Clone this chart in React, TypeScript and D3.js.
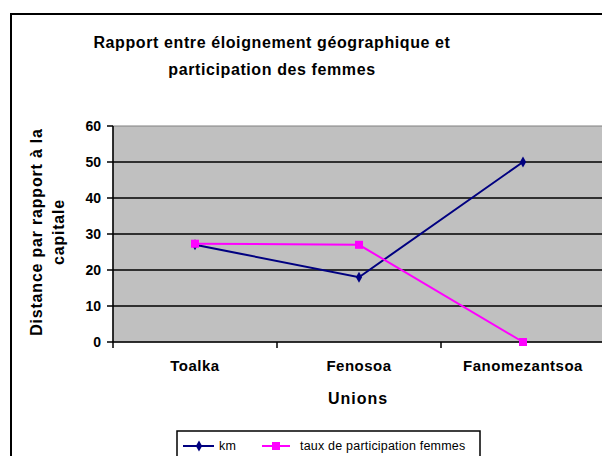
import React from "react";
import * as d3 from "d3";

const WIDTH = 602;
const HEIGHT = 456;
const MARGIN = { top: 126, right: -3, bottom: 114, left: 113 };

const categories = ["Toalka", "Fenosoa", "Fanomezantsoa"];
const kmValues = [27, 18, 50];
const tauxValues = [27.3, 27, 0];
const yTicks = [0, 10, 20, 30, 40, 50, 60];

const FONT = "'Liberation Sans', Arial, sans-serif";

export default function App() {
  const boundsWidth = WIDTH - MARGIN.left - MARGIN.right;
  const boundsHeight = HEIGHT - MARGIN.top - MARGIN.bottom;

  const xScale = d3.scaleBand().domain(categories).range([0, boundsWidth]);
  const yScale = d3.scaleLinear().domain([0, 60]).range([boundsHeight, 0]);
  const xc = (c: string) => (xScale(c) ?? 0) + xScale.bandwidth() / 2;

  const line = d3
    .line<number>()
    .x((_, i) => xc(categories[i]))
    .y((d) => yScale(d));

  const diamond = d3.symbol(d3.symbolDiamond, 34)() ?? "";
  const yMid = MARGIN.top + boundsHeight / 2 - 2;

  return (
    <svg
      width={WIDTH}
      height={HEIGHT}
      style={{ position: "absolute", left: 0, top: 0, background: "#fff" }}
      fontFamily={FONT}
    >
      <rect x={11} y={14} width={620} height={480} fill="#fff" stroke="#000" strokeWidth={2} />

      <text x={272} y={48} textAnchor="middle" fontSize={16} fontWeight="bold" letterSpacing={0.6}>
        Rapport entre éloignement géographique et
      </text>
      <text x={272} y={75} textAnchor="middle" fontSize={16} fontWeight="bold" letterSpacing={0.6}>
        participation des femmes
      </text>

      <g transform={`translate(${MARGIN.left},${MARGIN.top})`}>
        <rect x={0} y={0} width={boundsWidth} height={boundsHeight} fill="#C0C0C0" stroke="#808080" strokeWidth={1} />
        {yTicks.map((t) => (
          <g key={t}>
            {t > 0 && t < 60 && (
              <line x1={0} x2={boundsWidth} y1={yScale(t)} y2={yScale(t)} stroke="#000" strokeWidth={1.5} />
            )}
            <line x1={-6} x2={0} y1={yScale(t)} y2={yScale(t)} stroke="#000" strokeWidth={1.5} />
            <text x={-12} y={yScale(t)} dy="0.35em" textAnchor="end" fontSize={14} fontWeight="bold">
              {t}
            </text>
          </g>
        ))}
        <line x1={0} x2={0} y1={0} y2={boundsHeight + 6} stroke="#000" strokeWidth={1.5} />
        <line x1={0} x2={boundsWidth} y1={boundsHeight} y2={boundsHeight} stroke="#000" strokeWidth={1.5} />
        {categories.map((c) => (
          <g key={c}>
            <line
              x1={(xScale(c) ?? 0) + xScale.bandwidth()}
              x2={(xScale(c) ?? 0) + xScale.bandwidth()}
              y1={boundsHeight}
              y2={boundsHeight + 6}
              stroke="#000"
              strokeWidth={1.5}
            />
            <text x={xc(c)} y={boundsHeight + 29} textAnchor="middle" fontSize={15} fontWeight="bold" letterSpacing={0.5}>
              {c}
            </text>
          </g>
        ))}

        <path d={line(kmValues) ?? ""} fill="none" stroke="#000080" strokeWidth={2} />
        <path d={line(tauxValues) ?? ""} fill="none" stroke="#FF00FF" strokeWidth={2} />
        {kmValues.map((v, i) => (
          <path key={i} d={diamond} transform={`translate(${xc(categories[i])},${yScale(v)})`} fill="#000080" />
        ))}
        {tauxValues.map((v, i) => (
          <rect key={i} x={xc(categories[i]) - 4} y={yScale(v) - 4} width={8} height={8} fill="#FF00FF" />
        ))}
      </g>

      <text
        transform={`translate(42,${yMid}) rotate(-90)`}
        textAnchor="middle"
        fontSize={16}
        fontWeight="bold"
        letterSpacing={0.8}
      >
        Distance par rapport à la
      </text>
      <text
        transform={`translate(64,${yMid}) rotate(-90)`}
        textAnchor="middle"
        fontSize={16}
        fontWeight="bold"
        letterSpacing={0.8}
      >
        capitale
      </text>
      <text x={358} y={404} textAnchor="middle" fontSize={16} fontWeight="bold" letterSpacing={1}>
        Unions
      </text>

      <g>
        <rect x={177} y={431} width={303} height={40} fill="#fff" stroke="#000" strokeWidth={1.5} />
        <line x1={183} x2={214} y1={446} y2={446} stroke="#000080" strokeWidth={2} />
        <path d={diamond} transform="translate(199,446)" fill="#000080" />
        <text x={219} y={446} dy="0.35em" fontSize={12.5} letterSpacing={0.2}>km</text>
        <line x1={262} x2={290} y1={446} y2={446} stroke="#FF00FF" strokeWidth={2} />
        <rect x={272} y={442} width={8} height={8} fill="#FF00FF" />
        <text x={300} y={446} dy="0.35em" fontSize={12.5} letterSpacing={0.2}>taux de participation femmes</text>
      </g>
    </svg>
  );
}
